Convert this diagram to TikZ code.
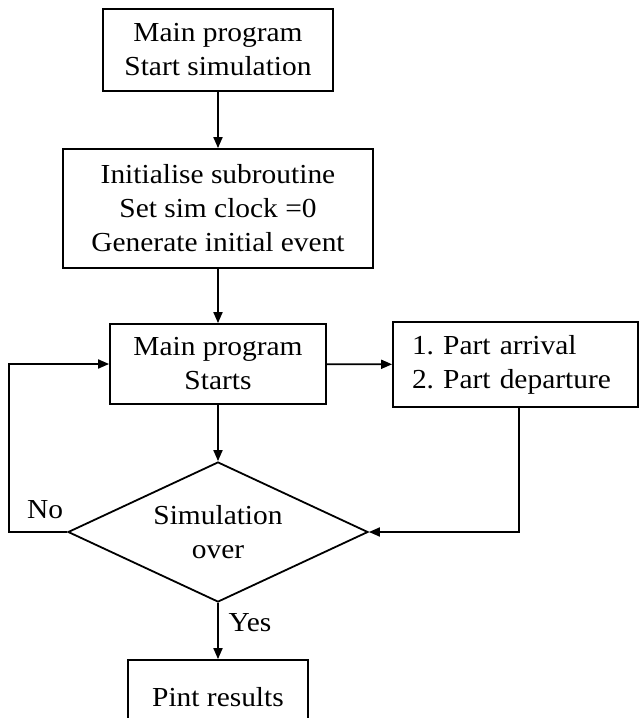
\documentclass[tikz,border=0pt]{standalone}
\usepackage{fontspec}
\setmainfont{Liberation Serif}[FakeStretch=1.07]
\usetikzlibrary{arrows.meta,shapes.geometric}
\frenchspacing
\begin{document}
\begin{tikzpicture}[x=1pt,y=-1pt]
\tikzset{
 box/.style={draw, line width=1.8pt, rectangle, inner sep=0pt, align=center, font=\fontsize{27.5}{34}\selectfont},
 arr/.style={line width=1.8pt, -{Triangle[length=11pt,width=9pt]}},
 lbl/.style={font=\fontsize{27.5}{34}\selectfont, inner sep=0pt}
}
\useasboundingbox (0,0) rectangle (640,718);
\clip (0,0) rectangle (640,718);

\node[box, minimum width=230pt, minimum height=82pt] (b1) at (218,50) {Main program\\Start simulation};
\node[box, minimum width=310pt, minimum height=119pt] (b2) at (218,208.5) {Initialise subroutine\\Set sim clock =0\\Generate initial event};
\node[box, minimum width=216pt, minimum height=80pt] (b3) at (218,364) {Main program\\Starts};
\node[box, minimum width=245pt, minimum height=85pt, align=left, text width=207pt] (b4) at (515.5,364.5) {1. Part arrival\\2. Part departure};
\node[draw, diamond, line width=1.8pt, minimum width=300pt, minimum height=140pt, inner sep=0pt] (d) at (218,532) {};
\node[lbl, align=center] (dt) at (218,532) {Simulation\\over};
\node[box, minimum width=180pt, minimum height=74pt] (b5) at (218,697) {Pint results};
\node[lbl] (yes) at (250,623) {Yes};
\node[lbl] (no) at (45,510) {No};

\draw[arr] (b1) -- (b2);
\draw[arr] (b2) -- (b3);
\draw[arr] (b3) -- (b4);
\draw[arr] (b3) -- (d);
\draw[arr] ([xshift=3.5pt]b4.south) |- (d.east);
\draw[arr] (d.west) -- ++(-58pt,0) |- (b3.west);
\draw[arr] (d.south) -- (b5.north);
\end{tikzpicture}
\end{document}
